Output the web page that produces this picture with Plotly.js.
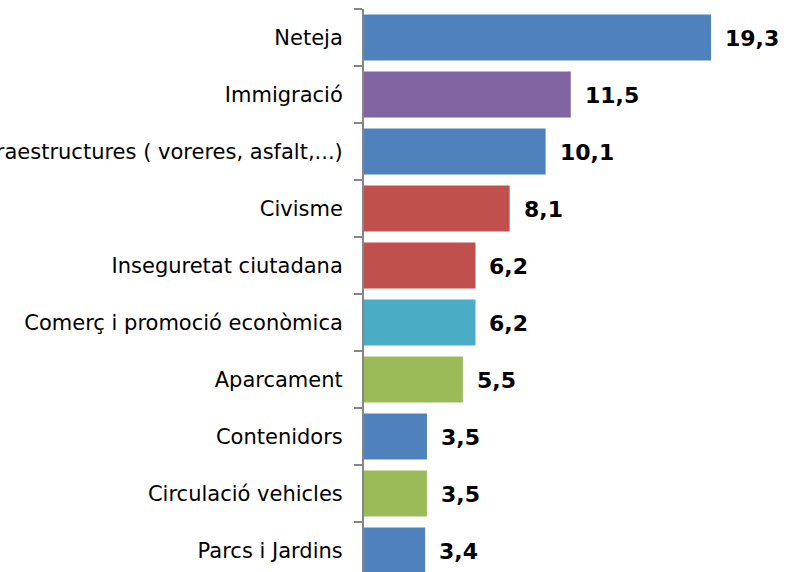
<!DOCTYPE html>
<html>
<head>
<meta charset="utf-8">
<script src="https://cdn.plot.ly/plotly-3.0.1.min.js"></script>
<style>
  html, body { margin: 0; padding: 0; background: #fff; overflow: hidden; }
  #chart { width: 787px; height: 572px; }
</style>
</head>
<body>
<div id="chart"></div>
<script>
const categories = [
  "Neteja",
  "Immigració",
  "Infraestructures ( voreres, asfalt,...)",
  "Civisme",
  "Inseguretat ciutadana",
  "Comerç i promoció econòmica",
  "Aparcament",
  "Contenidors",
  "Circulació vehicles",
  "Parcs i Jardins"
];
const values = [19.3, 11.5, 10.1, 8.1, 6.2, 6.2, 5.5, 3.5, 3.5, 3.4];
const barColors = ["#4F81BD", "#8064A2", "#4F81BD", "#C0504D", "#C0504D",
                   "#4BACC6", "#9BBB59", "#4F81BD", "#9BBB59", "#4F81BD"];
const valueLabels = values.map(v => v.toFixed(1).replace(".", ","));

const trace = {
  type: "bar",
  orientation: "h",
  x: values,
  y: categories,
  marker: { color: barColors },
  hoverinfo: "none"
};

const annotations = values.map((v, i) => ({
  x: v, y: categories[i], xref: "x", yref: "y",
  text: valueLabels[i],
  showarrow: false,
  xanchor: "left", yanchor: "middle",
  xshift: 12, yshift: -1,
  font: { family: "DejaVu Sans", size: 22, color: "#000", weight: "bold" }
}));

const layout = {
  width: 787, height: 572,
  margin: { l: 364, r: 0, t: 9, b: 0, pad: 0 },
  paper_bgcolor: "#fff", plot_bgcolor: "#fff",
  showlegend: false,
  bargap: 0.193,
  xaxis: {
    range: [0, 423 / 17.98],
    visible: false, showgrid: false, zeroline: false, fixedrange: true
  },
  yaxis: {
    type: "category",
    categoryorder: "array", categoryarray: categories,
    range: [9.377, -0.5],
    showline: true, linecolor: "#868686", linewidth: 2,
    ticks: "outside", tickson: "boundaries", ticklen: 8, tickwidth: 2, tickcolor: "#868686",
    showgrid: false, zeroline: false, automargin: false,
    ticklabelstandoff: 15,
    tickfont: { family: "DejaVu Sans", size: 21, color: "#000" }
  },
  annotations: annotations
};

Plotly.newPlot("chart", [trace], layout, { displayModeBar: false, staticPlot: true });
</script>
</body>
</html>
